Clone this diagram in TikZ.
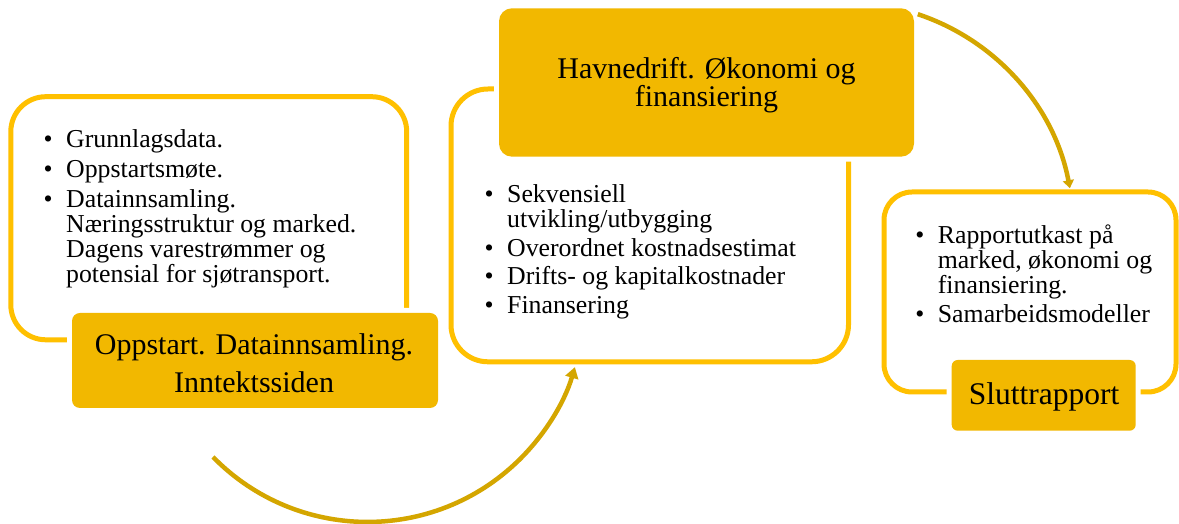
\documentclass[tikz,border=0pt]{standalone}
\usepackage{fontspec}
\setmainfont{Liberation Serif}
\usetikzlibrary{arrows.meta}
\definecolor{gold}{HTML}{F2B800}
\definecolor{goldline}{HTML}{FFC000}
\definecolor{goldarrow}{HTML}{D4A600}
\newlength\itemgap
\newcommand\nl{\hfil\break}
\newcommand\bitem[1]{\par\hangindent=22.5pt\hangafter=1\noindent\makebox[22.5pt][l]{\textbullet}#1}
\newcommand\nitem[1]{\par\vskip\itemgap\bitem{#1}}
\newcommand\blist[2]{\vtop{\hsize=420pt\parindent=0pt\parskip=0pt\fontsize{25.8}{25}\selectfont\lineskiplimit=-100pt\rightskip=0pt plus 1fil\setlength\itemgap{#1}#2\par}}
\newcommand\ctext[3]{\vtop{\fontsize{#1}{#2}\selectfont\lineskiplimit=-100pt\halign{\hfil##\hfil\cr #3\crcr}}}
\tikzset{
  outlinebox/.style={draw=goldline, line width=5pt, fill=white, inner sep=0pt},
  orangebox/.style={fill=gold, inner sep=0pt, preaction={draw=white, line width=10pt}},
  txt/.style={inner sep=0pt, text=black},
  arr/.style={draw=goldarrow, line width=4.5pt},
}
\begin{document}
\begin{tikzpicture}[x=1pt,y=1pt]
\fill[white] (0,0) rectangle (1179,524);
\useasboundingbox (0,0) rectangle (1179,524);
% outline boxes
\node[outlinebox, rounded corners=35pt, minimum width=395.9pt, minimum height=243.1pt] (b1) at (208.75,305.75) {};
\node[outlinebox, rounded corners=37pt, minimum width=397.5pt, minimum height=272.8pt] (b2) at (649.75,298.6) {};
\node[outlinebox, rounded corners=28pt, minimum width=292pt, minimum height=200pt] (b3) at (1030,232) {};
% orange boxes
\node[orangebox, rounded corners=8pt, minimum width=366pt, minimum height=95pt] (o1) at (255,163.5) {};
\node[orangebox, rounded corners=13pt, minimum width=415pt, minimum height=148.4pt] (o2) at (706.5,441.5) {};
\node[orangebox, rounded corners=6pt, minimum width=184pt, minimum height=70.7pt] (o3) at (1043.7,128.65) {};
% titles
\node[txt, anchor=base] (t1) at (254,169) {\ctext{30}{37.7}{Oppstart. Datainnsamling.\cr Inntektssiden}};
\node[txt, anchor=base] (t2) at (706.5,445.7) {\ctext{30}{28.5}{Havnedrift. Økonomi og\cr finansiering}};
\node[txt, anchor=base] (t3) at (1044,119) {\ctext{31.5}{31.5}{Sluttrapport}};
% lists
\node[txt, anchor=base west] (l1) at (43.5,376) {\blist{5pt}{%
\bitem{Grunnlagsdata.}
\nitem{Oppstartsmøte.}
\nitem{Datainnsamling.\nl Næringsstruktur og marked.\nl Dagens varestrømmer og\nl potensial for sjøtransport.}}};
\node[txt, anchor=base west] (l2) at (484.5,321) {\blist{3.5pt}{%
\bitem{Sekvensiell\nl utvikling/utbygging}
\nitem{Overordnet kostnadsestimat}
\nitem{Drifts- og kapitalkostnader}
\nitem{Finansering}}};
\node[txt, anchor=base west] (l3) at (915.2,280) {\blist{3.5pt}{%
\bitem{Rapportutkast på\nl marked, økonomi og\nl finansiering.}
\nitem{Samarbeidsmodeller}}};
% arrows
\coordinate (a1s) at (213,67);
\draw[arr, -{Triangle[length=11pt,width=13pt]}] (a1s) arc[start angle=224.4, end angle=343.5, radius=216.3pt];
\coordinate (a2s) at (917.8,509.8);
\draw[arr, -{Triangle[length=8pt,width=11pt]}] (a2s) arc[start angle=71.6, end angle=10.7, radius=228pt];
\end{tikzpicture}
\end{document}
